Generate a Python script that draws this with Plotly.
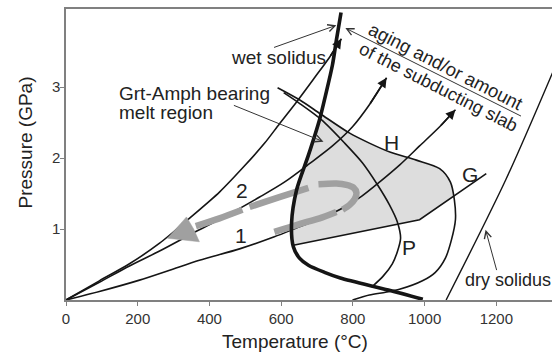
import plotly.graph_objects as go

# ---------------- data (temperature in °C, pressure in GPa) ----------------
wet_solidus_T = [767, 754, 743, 724, 707, 676, 643, 629, 634, 651, 676, 721, 765, 899, 995]
wet_solidus_P = [4.05, 3.66, 3.31, 2.89, 2.54, 2.04, 1.55, 1.08, 0.75, 0.59, 0.49, 0.39, 0.31, 0.14, 0.01]

dry_solidus_T = [1060, 1226, 1365]
dry_solidus_P = [0.0, 1.69, 3.30]

hbl_out_T = [590, 651, 710, 791, 846, 905, 977, 1042, 1072, 1083, 1086, 1075, 1058, 1030, 994, 930, 891, 846, 799]
hbl_out_P = [2.99, 2.82, 2.62, 2.35, 2.21, 2.08, 1.97, 1.85, 1.66, 1.41, 1.13, 0.85, 0.59, 0.39, 0.27, 0.15, 0.11, 0.07, 0.0]

plag_out_T = [607, 651, 712, 777, 827, 869, 902, 924, 933, 924, 910, 885, 852]
plag_out_P = [2.92, 2.77, 2.54, 2.21, 1.93, 1.62, 1.34, 1.10, 0.87, 0.68, 0.51, 0.34, 0.18]

grt_in_T = [634, 986, 1172]
grt_in_P = [0.77, 1.13, 1.78]

geotherm1_T = [0, 93, 205, 289, 372, 484, 581, 651, 707, 777, 824, 874, 930, 986, 1042, 1086]
geotherm1_P = [0, 0.12, 0.28, 0.42, 0.56, 0.72, 0.89, 1.03, 1.14, 1.31, 1.46, 1.66, 1.90, 2.17, 2.44, 2.68]

geotherm2_T = [0, 93, 177, 261, 372, 456, 540, 609, 679, 743, 799, 846, 894]
geotherm2_P = [0, 0.25, 0.48, 0.69, 0.99, 1.21, 1.45, 1.66, 1.92, 2.17, 2.44, 2.75, 3.13]

geotherm3_T = [0, 93, 177, 261, 344, 428, 498, 554, 595, 643, 693, 735, 768]
geotherm3_P = [0, 0.27, 0.51, 0.80, 1.15, 1.52, 1.89, 2.21, 2.48, 2.79, 3.13, 3.42, 3.68]

melt_region_T = [711, 707, 676, 643, 629, 634, 986, 1081, 1072, 1042, 977, 905, 846, 791, 711]
melt_region_P = [2.62, 2.54, 2.04, 1.55, 1.08, 0.77, 1.13, 1.45, 1.66, 1.85, 1.97, 2.08, 2.21, 2.35, 2.62]

path_T = [581, 651, 707, 754, None, 771, 791, 805, 810, 802, 782, 754, 704, None, 676, 595, 512, None, 492, 428, 362]
path_P = [0.96, 1.07, 1.15, 1.24, None, 1.27, 1.34, 1.42, 1.51, 1.58, 1.62, 1.64, 1.63, None, 1.58, 1.45, 1.31, None, 1.27, 1.15, 1.04]
path_head_T = [283, 336, 356, 372, 283]
path_head_P = [0.87, 1.17, 1.00, 0.82, 0.87]

leader_wet_T = [576, 754]
leader_wet_P = [3.55, 3.87]
leader_slab_T = [1273, 779]
leader_slab_P = [2.58, 3.83]
leader_melt_T = [464, 718]
leader_melt_P = [2.75, 2.23]
leader_dry_T = [1202, 1170]
leader_dry_P = [0.40, 0.99]

x_ticks = [0, 200, 400, 600, 800, 1000, 1200]
y_ticks = [1, 2, 3]

# ---------------- figure ----------------
W, H = 552, 355
ML, MR, MT, MB = 66, 0, 9, 55
PW, PH = W - ML - MR, H - MT - MB
FONT = "Liberation Sans, Arial, Helvetica, sans-serif"
BLACK = "#151515"
GREY = "#a0a0a0"

def xp(px):
    return (px - ML) / PW

def yp(py):
    return (MT + PH - py) / PH

fig = go.Figure()

fig.add_trace(go.Scatter(x=melt_region_T, y=melt_region_P, mode="lines", fill="toself",
                         fillcolor="#dddddd", line=dict(width=0, color="#dddddd"),
                         hoverinfo="skip"))

def curve(xs, ys, width=1.6, color=BLACK, shape="spline"):
    fig.add_trace(go.Scatter(x=xs, y=ys, mode="lines",
                             line=dict(color=color, width=width, shape=shape, smoothing=0.8),
                             hoverinfo="skip"))

curve(geotherm1_T, geotherm1_P)
curve(geotherm2_T, geotherm2_P)
curve(geotherm3_T, geotherm3_P)
curve(hbl_out_T, hbl_out_P)
curve(plag_out_T, plag_out_P)
curve(grt_in_T, grt_in_P, shape="linear")
curve(dry_solidus_T, dry_solidus_P, width=1.4)

# grey P-T path
fig.add_trace(go.Scatter(x=path_T, y=path_P, mode="lines", connectgaps=False,
                         line=dict(color=GREY, width=6.5, shape="spline", smoothing=0.8),
                         hoverinfo="skip"))
fig.add_trace(go.Scatter(x=path_head_T, y=path_head_P, mode="lines", fill="toself",
                         fillcolor=GREY, line=dict(width=0.5, color=GREY),
                         hoverinfo="skip"))

curve(wet_solidus_T, wet_solidus_P, width=3.6)

ann = []

# arrowheads on geotherms
for xs, ys in [(geotherm1_T, geotherm1_P), (geotherm2_T, geotherm2_P), (geotherm3_T, geotherm3_P)]:
    ann.append(dict(x=xs[-1], y=ys[-1], ax=xs[-2], ay=ys[-2], xref="x", yref="y",
                    axref="x", ayref="y", text="", showarrow=True, arrowhead=2,
                    arrowsize=1.2, arrowwidth=1.6, arrowcolor=BLACK, standoff=0))

# leader arrows
for xs, ys in [(leader_wet_T, leader_wet_P), (leader_slab_T, leader_slab_P),
               (leader_melt_T, leader_melt_P), (leader_dry_T, leader_dry_P)]:
    ann.append(dict(x=xs[1], y=ys[1], ax=xs[0], ay=ys[0], xref="x", yref="y",
                    axref="x", ayref="y", text="", showarrow=True, arrowhead=5,
                    arrowsize=1.4, arrowwidth=1.0, arrowcolor="#333333", standoff=0))

def label(text, px, py, size=19, xanchor="center", angle=0):
    ann.append(dict(x=xp(px), y=yp(py), xref="paper", yref="paper", text=text,
                    showarrow=False, xanchor=xanchor, yanchor="middle", textangle=angle,
                    font=dict(family=FONT, size=size, color="#222222")))

label("wet solidus", 229, 58, xanchor="left")
label("Grt-Amph bearing", 117, 94, xanchor="left")
label("melt region", 117, 113, xanchor="left")
label("1", 241, 235.5, size=21)
label("2", 241.5, 190.5, size=21)
label("H", 391.5, 142.5, size=21)
label("G", 470, 174, size=21)
label("P", 409, 247.5, size=21)
label("dry solidus", 463, 280, size=18, xanchor="left")
label("aging and/or amount", 446, 66, size=18.5, angle=27)
label("of the subducting slab", 438, 87, size=18, angle=27)
label("Temperature (°C)", 295, 341)
label("Pressure (GPa)", 25, 142.5, angle=-90)

fig.update_layout(
    width=W, height=H,
    margin=dict(l=ML, r=MR, t=MT, b=MB, pad=0),
    paper_bgcolor="white", plot_bgcolor="white",
    showlegend=False,
    annotations=ann,
    xaxis=dict(range=[0, PW * 2.7886], tickvals=x_ticks, ticktext=[str(v) for v in x_ticks],
               showgrid=False, zeroline=False, showline=True, linecolor="#808080", linewidth=1.5,
               mirror=True, ticks="outside", ticklen=4, tickcolor="#808080", tickwidth=1,
               ticklabelstandoff=0,
               tickfont=dict(family=FONT, size=15, color="#333333")),
    yaxis=dict(range=[0, PH * 0.014085], tickvals=y_ticks, ticktext=[str(v) for v in y_ticks],
               showgrid=False, zeroline=False, showline=True, linecolor="#808080", linewidth=1.5,
               mirror=False, ticks="outside", ticklen=4, tickcolor="#808080", tickwidth=1,
               ticklabelstandoff=-3,
               tickfont=dict(family=FONT, size=15, color="#333333")),
)

fig.write_html("out.html")
